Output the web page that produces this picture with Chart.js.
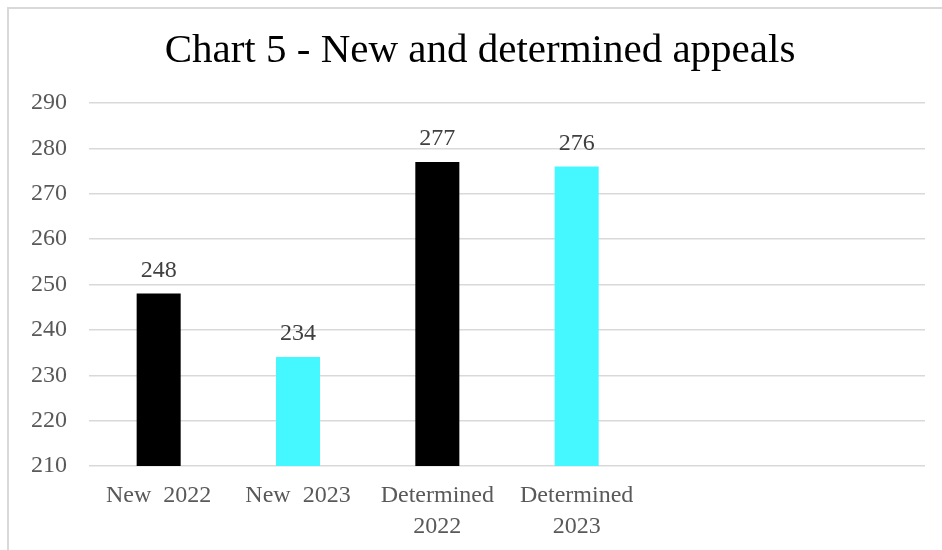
<!DOCTYPE html>
<html>
<head>
<meta charset="utf-8">
<script src="https://cdn.jsdelivr.net/npm/chart.js@4/dist/chart.umd.min.js"></script>
<style>
  html, body { margin: 0; padding: 0; background: #ffffff; overflow: hidden; width: 942px; height: 550px; }
  #frame { position: absolute; left: 7px; top: 7px; width: 1000px; height: 700px; border: 2px solid #d9d9d9; box-sizing: border-box; }
  #box { position: absolute; left: 0; top: 0; width: 960px; height: 550px; }
</style>
</head>
<body>
<div id="frame"></div>
<div id="box"><canvas id="c" width="960" height="550"></canvas></div>
<script>
const chartTitle = 'Chart 5 - New and determined appeals';
const categories = [['New  2022'], ['New  2023'], ['Determined', '2022'], ['Determined', '2023'], '', ''];
const values = [248, 234, 277, 276, null, null];
const barColors = ['#000000', '#45F8FF', '#000000', '#45F8FF', '#000000', '#45F8FF'];
const yMin = 210;
const yMax = 290;
const yStep = 10;

const FONT = "'Liberation Serif', 'DejaVu Serif', serif";

const valueLabels = {
  id: 'valueLabels',
  afterDatasetsDraw(chart) {
    const ctx = chart.ctx;
    const meta = chart.getDatasetMeta(0);
    ctx.save();
    ctx.font = '24px ' + FONT;
    ctx.fillStyle = '#404040';
    ctx.textAlign = 'center';
    ctx.textBaseline = 'middle';
    meta.data.forEach((el, i) => {
      const v = chart.data.datasets[0].data[i];
      if (v === null || v === undefined) return;
      ctx.fillText(String(v), el.x, el.y - 23);
    });
    ctx.restore();
  }
};

new Chart(document.getElementById('c'), {
  type: 'bar',
  data: {
    labels: categories,
    datasets: [{
      data: values,
      yAxisID: 'y',
      backgroundColor: barColors,
      borderWidth: 0,
      categoryPercentage: 1,
      barPercentage: 0.316
    }]
  },
  options: {
    responsive: false,
    animation: false,
    devicePixelRatio: 1,
    layout: { padding: { left: 0, right: 0, top: 0, bottom: 0 } },
    plugins: {
      legend: { display: false },
      tooltip: { enabled: false },
      title: {
        display: true,
        text: chartTitle,
        color: '#000000',
        font: { family: FONT, size: 41, weight: 'normal', lineHeight: 1.2 },
        padding: { top: 26.5, bottom: 27.3 }
      }
    },
    scales: {
      x: {
        afterFit(scale) { scale.height = 84; },
        grid: { display: false, drawTicks: false },
        border: { display: false },
        ticks: {
          color: '#595959',
          font: { family: FONT, size: 24, lineHeight: 1.3 },
          padding: 14,
          maxRotation: 0,
          autoSkip: false
        }
      },
      y: {
        min: yMin,
        max: yMax,
        afterFit(scale) { scale.width = 89; },
        grid: { color: '#d9d9d9', lineWidth: 1.5, drawTicks: false },
        border: { display: false },
        ticks: {
          stepSize: yStep,
          color: '#595959',
          font: { family: FONT, size: 24, lineHeight: 1.25 },
          padding: 22
        }
      },
      yRight: {
        position: 'right',
        min: yMin,
        max: yMax,
        afterFit(scale) { scale.width = 35; },
        grid: { display: false, drawTicks: false },
        border: { display: false },
        ticks: { display: false }
      }
    }
  },
  plugins: [valueLabels]
});
</script>
</body>
</html>
